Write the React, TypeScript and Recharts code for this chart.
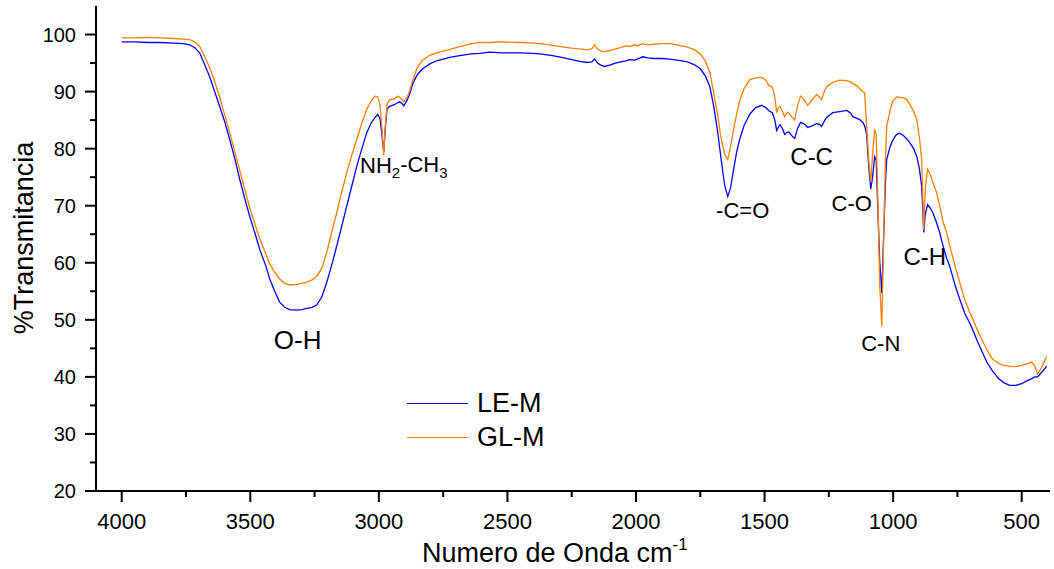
import React from "react";
import { LineChart, Line, XAxis, YAxis, ReferenceDot, Customized } from "recharts";

// wavenumber (cm-1), descending
const waveNumbers = [
  4000, 3950, 3900, 3850, 3800, 3760, 3736, 3716, 3697, 3680, 3658, 3640, 3619, 3600, 3580, 3560,
  3541, 3520, 3502, 3480, 3463, 3440, 3424, 3405, 3386, 3366, 3347, 3320, 3300, 3280, 3260, 3242,
  3222, 3203, 3184, 3164, 3145, 3125, 3105, 3086, 3066, 3047, 3030, 3016, 3004, 2995, 2987, 2981,
  2975, 2968, 2958, 2940, 2928, 2919, 2910, 2903, 2890, 2880, 2868, 2850, 2830, 2800, 2775, 2724,
  2686, 2640, 2608, 2569, 2520, 2452, 2400, 2374, 2324, 2280, 2250, 2219, 2190, 2172, 2161, 2150,
  2135, 2122, 2100, 2080, 2060, 2040, 2025, 2005, 1995, 1974, 1955, 1930, 1900, 1869, 1840, 1800,
  1772, 1750, 1730, 1713, 1698, 1682, 1670, 1655, 1643, 1632, 1620, 1608, 1597, 1580, 1558, 1535,
  1511, 1495, 1482, 1470, 1460, 1453, 1446, 1440, 1430, 1422, 1412, 1405, 1395, 1383, 1372, 1360,
  1345, 1332, 1315, 1297, 1285, 1278, 1268, 1258, 1235, 1208, 1180, 1165, 1157, 1140, 1130, 1118,
  1111, 1103, 1095, 1087, 1080, 1072, 1066, 1060, 1052, 1044, 1036, 1030, 1025, 1013, 1002, 990,
  982, 975, 960, 947, 936, 920, 908, 898, 889, 885, 881, 875, 866, 856, 846, 831,
  819, 805, 792, 780, 760, 741, 722, 702, 690, 675, 660, 636, 613, 590, 570, 547,
  525, 500, 480, 461, 450, 438, 428, 415, 403,
];

// LE-M transmittance (%)
const leM = [
  98.7, 98.7, 98.6, 98.6, 98.5, 98.4, 98.2, 97.7, 96.8, 95.0, 92.6, 90.2, 87.4, 84.8, 81.6, 78.2,
  74.6, 71.0, 68.1, 64.9, 62.3, 59.5, 57.1, 55.0, 53.1, 52.2, 51.8, 51.7, 51.8, 52.0, 52.2, 52.6,
  54.0, 56.5, 59.5, 62.9, 66.3, 69.9, 73.5, 76.9, 80.0, 82.8, 84.5, 85.4, 86.0, 85.2, 82.0, 79.4,
  83.5, 87.0, 87.4, 87.7, 88.0, 88.2, 87.9, 87.5, 88.5, 89.6, 91.4, 93.0, 94.0, 94.9, 95.4, 96.0,
  96.3, 96.6, 96.7, 96.9, 96.8, 96.8, 96.7, 96.6, 96.3, 95.9, 95.6, 95.3, 95.1, 95.2, 95.7, 95.0,
  94.6, 94.4, 94.7, 95.0, 95.2, 95.4, 95.6, 95.5, 95.7, 96.1, 95.9, 95.8, 95.8, 95.7, 95.5, 95.2,
  94.7, 94.0, 92.7, 90.9, 87.5, 82.8, 78.5, 73.5, 71.6, 73.2, 76.5, 79.5, 81.6, 84.0, 86.0, 87.2,
  87.6, 87.2, 86.6, 86.3, 85.0, 83.2, 83.8, 84.2, 83.5, 82.5, 82.9, 82.9, 82.3, 81.8, 83.5, 84.6,
  84.3, 83.7, 84.0, 84.4, 84.2, 83.9, 84.8, 85.5, 86.3, 86.5, 86.7, 86.2, 85.6, 85.3, 85.1, 84.6,
  84.0, 82.5, 77.0, 72.9, 75.0, 78.6, 78.0, 70.0, 60.0, 54.7, 66.0, 74.0, 78.1, 80.2, 81.4, 82.3,
  82.6, 82.7, 82.3, 81.7, 81.1, 80.0, 78.6, 76.5, 73.4, 69.5, 65.3, 68.5, 70.2, 69.6, 68.8, 67.0,
  65.3, 62.8, 60.8, 59.4, 56.2, 53.6, 51.2, 49.4, 48.2, 46.5, 45.0, 42.6, 41.0, 39.7, 39.0, 38.5,
  38.5, 38.8, 39.3, 39.7, 40.0, 40.0, 40.5, 41.2, 41.9,
];

// GL-M transmittance (%)
const glM = [
  99.4, 99.4, 99.5, 99.4, 99.3, 99.2, 99.1, 98.7, 97.9, 96.4, 94.2, 92.0, 89.0, 86.0, 82.8, 79.4,
  76.2, 72.6, 69.6, 66.5, 64.2, 61.6, 59.8, 58.3, 57.2, 56.4, 56.1, 56.2, 56.4, 56.6, 57.0, 57.6,
  59.0, 61.8, 65.2, 68.8, 72.3, 75.8, 78.9, 81.6, 84.5, 86.9, 88.3, 89.2, 89.1, 87.5, 83.0, 78.8,
  84.0, 87.8, 88.6, 88.7, 89.2, 89.0, 88.6, 88.2, 89.0, 90.2, 92.0, 94.3, 95.5, 96.4, 96.8, 97.4,
  97.9, 98.4, 98.6, 98.6, 98.7, 98.6, 98.5, 98.4, 98.1, 97.8, 97.6, 97.5, 97.3, 97.5, 98.2, 97.5,
  97.1, 97.0, 97.2, 97.5, 97.7, 98.0, 97.9, 98.2, 98.0, 98.4, 98.2, 98.3, 98.4, 98.4, 98.2, 97.8,
  97.3, 96.6, 95.3, 93.4, 89.8, 85.8, 82.0, 79.0, 78.1, 80.5, 83.5, 86.2, 88.3, 90.5, 92.1, 92.4,
  92.5, 92.0, 91.0, 90.8, 89.0, 86.3, 87.2, 87.4, 86.5, 85.6, 86.4, 86.2, 85.6, 85.0, 87.5, 89.2,
  88.5, 87.6, 88.6, 89.5, 89.0, 88.6, 90.0, 90.9, 91.6, 92.0, 91.9, 91.7, 91.4, 91.0, 90.5, 90.0,
  89.8, 84.0, 78.0, 74.1, 79.0, 83.4, 82.5, 72.0, 56.0, 48.9, 66.0, 78.0, 83.9, 86.5, 88.3, 88.9,
  89.1, 89.0, 88.9, 88.6, 87.8, 86.5, 85.1, 82.0, 78.1, 72.0, 65.8, 73.0, 76.4, 75.5, 74.2, 72.3,
  70.0, 67.0, 65.3, 63.0, 59.6, 56.5, 53.6, 51.3, 50.1, 48.5, 47.0, 44.8, 43.1, 42.4, 42.0, 41.9,
  41.8, 42.0, 42.3, 42.6, 42.0, 40.5, 41.2, 42.4, 43.6,
];

const xTicks = [4000, 3750, 3500, 3250, 3000, 2750, 2500, 2250, 2000, 1750, 1500, 1250, 1000, 750, 500];
const yTicks = [20, 25, 30, 35, 40, 45, 50, 55, 60, 65, 70, 75, 80, 85, 90, 95, 100];

const series = [
  { key: "le", name: "LE-M", color: "#0000ff" },
  { key: "gl", name: "GL-M", color: "#ff7f00" },
];

// band assignments
const bandLabels = [
  { text: "O-H", wn: 3316, t: 46.5, size: 26 },
  { text: "NH2-CH3", wn: 2903, t: 77.2, size: 22 },
  { text: "-C=O", wn: 1585, t: 69.3, size: 22 },
  { text: "C-C", wn: 1317, t: 78.6, size: 24 },
  { text: "C-O", wn: 1161, t: 70.5, size: 22 },
  { text: "C-H", wn: 877, t: 61.2, size: 24 },
  { text: "C-N", wn: 1048, t: 46.0, size: 22 },
];

const data = waveNumbers.map((wn, i) => ({ wn, le: leM[i], gl: glM[i] }));

const FONT = "'Liberation Sans', Arial, sans-serif";

function BottomTick({ x, y, payload }: any) {
  const major = payload.value % 500 === 0;
  return (
    <g>
      <line x1={x} x2={x} y1={y} y2={y + (major ? 11 : 6)} stroke="#000" strokeWidth={2} />
      {major && (
        <text x={x} y={y + 38} textAnchor="middle" fontSize={22} fontFamily={FONT} fill="#000">
          {payload.value}
        </text>
      )}
    </g>
  );
}

function TopTick({ x, y, payload }: any) {
  const major = payload.value % 500 === 0;
  return <line x1={x} x2={x} y1={y} y2={y - (major ? 6 : 3)} stroke="#000" strokeWidth={2} />;
}

function LeftTick({ x, y, payload }: any) {
  const major = payload.value % 10 === 0;
  return (
    <g>
      <line x1={x - (major ? 11 : 6)} x2={x} y1={y} y2={y} stroke="#000" strokeWidth={2} />
      {major && (
        <text x={x - 20} y={y} dy="0.36em" textAnchor="end" fontSize={20} fontFamily={FONT} fill="#000">
          {payload.value}
        </text>
      )}
    </g>
  );
}

function BandText({ cx, cy, text, size }: any) {
  if (text === "NH2-CH3") {
    return (
      <text x={cx} y={cy} dy="0.36em" textAnchor="middle" fontSize={size} fontFamily={FONT} fill="#000">
        NH
        <tspan fontSize={size * 0.68} dy="0.35em">2</tspan>
        <tspan dy="-0.24em">-CH</tspan>
        <tspan fontSize={size * 0.68} dy="0.35em">3</tspan>
      </text>
    );
  }
  return (
    <text x={cx} y={cy} dy="0.36em" textAnchor="middle" fontSize={size} fontFamily={FONT} fill="#000">
      {text}
    </text>
  );
}

function AxisTitles() {
  return (
    <g fontFamily={FONT} fill="#000">
      <text x={422} y={562} fontSize={27}>
        Numero de Onda cm
        <tspan fontSize={17} dy="-12">-1</tspan>
      </text>
      <text x={33} y={238} fontSize={27} textAnchor="middle" transform="rotate(-90 33 238)">
        %Transmitancia
      </text>
    </g>
  );
}

export default function App() {
  return (
    <div style={{ position: "absolute", left: 0, top: 0, width: 1054, height: 569, background: "#fff" }}>
      <LineChart width={1054} height={569} data={data} margin={{ top: 6, right: 4, bottom: 0, left: 0 }}>
        <XAxis
          dataKey="wn"
          type="number"
          domain={[390, 4100]}
          reversed
          allowDataOverflow
          ticks={xTicks}
          interval={0}
          height={78}
          tickSize={0}
          tickMargin={0}
          tickLine={false}
          tick={<BottomTick />}
          axisLine={{ stroke: "#000", strokeWidth: 2 }}
        />
        <XAxis
          xAxisId="top"
          orientation="top"
          dataKey="wn"
          type="number"
          domain={[390, 4100]}
          reversed
          allowDataOverflow
          ticks={xTicks}
          interval={0}
          height={0}
          tickSize={0}
          tickMargin={0}
          tickLine={false}
          tick={<TopTick />}
          axisLine={{ stroke: "#000", strokeWidth: 2 }}
        />
        <YAxis
          type="number"
          domain={[20, 105]}
          allowDataOverflow
          ticks={yTicks}
          interval={0}
          width={96}
          tickSize={0}
          tickMargin={0}
          tickLine={false}
          tick={<LeftTick />}
          axisLine={{ stroke: "#000", strokeWidth: 2 }}
        />
        {series.map((s) => (
          <Line
            key={s.key}
            type="linear"
            dataKey={s.key}
            name={s.name}
            stroke={s.color}
            strokeWidth={1.3}
            dot={false}
            isAnimationActive={false}
          />
        ))}
        {bandLabels.map((b) => (
          <ReferenceDot
            key={b.text}
            x={b.wn}
            y={b.t}
            r={0}
            shape={(p: any) => <BandText cx={p.cx} cy={p.cy} text={b.text} size={b.size} />}
          />
        ))}
        <Customized component={<AxisTitles />} />
      </LineChart>
      <div style={{ position: "absolute", left: 407, top: 386, fontFamily: FONT, fontSize: 27, color: "#000" }}>
        {series.map((s) => (
          <div key={s.key} style={{ display: "flex", alignItems: "center", height: 34 }}>
            <span style={{ display: "inline-block", width: 61, height: 0, borderTop: `1.5px solid ${s.color}`, marginRight: 9 }} />
            <span>{s.name}</span>
          </div>
        ))}
      </div>
    </div>
  );
}
